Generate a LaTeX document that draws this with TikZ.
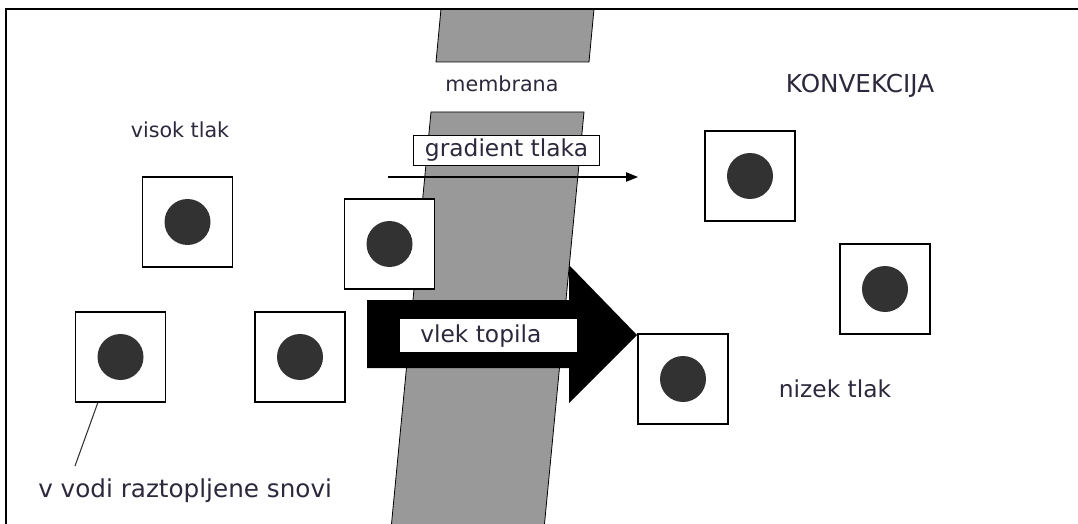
\documentclass[tikz,border=0pt]{standalone}
\usepackage{fontspec}
\setmainfont{DejaVu Sans}
\usetikzlibrary{calc,arrows.meta}
\definecolor{txt}{RGB}{45,40,60}
\definecolor{memb}{RGB}{153,153,153}
\definecolor{dotc}{RGB}{50,50,50}
\begin{document}
\begin{tikzpicture}[x=0.75pt,y=-0.75pt,
  lbl/.style={text=txt,font=\fontsize{17.5}{20}\selectfont,inner sep=0pt},
  biglbl/.style={text=txt,font=\fontsize{18.5}{21}\selectfont,inner sep=0pt},
  smalllbl/.style={text=txt,font=\fontsize{15.5}{18}\selectfont,inner sep=0pt},
  particle/.style={draw=black,line width=1pt,fill=white,minimum size=67.5pt,inner sep=0pt},
  core/.style={circle,fill=dotc,minimum size=34.5pt,inner sep=0pt}]
\useasboundingbox (0,0) rectangle (1078,524);
\fill[white] (0,0) rectangle (1078,524);
% membrane
\filldraw[fill=memb,draw=black,line width=0.6pt] (441,9) -- (594,9) -- (589,62) -- (436,62) -- cycle;
\filldraw[fill=memb,draw=black,line width=0.6pt] (431,112) -- (584,112) -- (544.3,526) -- (391.3,526) -- cycle;
% frame
\draw[line width=1.6pt] (6,526) -- (6,9) -- (1080,9);
% labels
\node[smalllbl,anchor=base] (visok) at (180,138) {visok tlak};
\node[smalllbl,anchor=base] (membrana) at (502,92) {membrana};
\node[biglbl,anchor=base] (konv) at (860,93) {KONVEKCIJA};
\node[lbl,anchor=base] (nizek) at (835,397) {nizek tlak};
\node[biglbl,anchor=base west] (snovi) at (38,497) {v vodi raztopljene snovi};
% gradient
\node[lbl,draw=black,line width=0.8pt,fill=white,minimum width=140pt,minimum height=23pt,inner sep=0pt] (grad) at (506.5,150.5) {gradient tlaka};
\coordinate (gs) at (388,177);
\coordinate (ge) at (638,177);
\draw[line width=0.8pt,-{Triangle[length=9pt,width=7pt]}] (gs) -- (ge);
% particles
\node[particle] (p1) at (187.5,222) {};
\node[particle] (p2) at (389.5,244) {};
\node[particle] (p3) at (120.5,357) {};
\node[particle] (p4) at (300,357) {};
\node[particle] (p5) at (750,176) {};
\node[particle] (p6) at (885,289) {};
\node[particle] (p7) at (683,379) {};
\foreach \p in {p1,p2,p3,p4,p5,p6,p7} \node[core] at (\p) {};
% solvent drag arrow
\fill[black] (367,300) -- (569,300) -- (569,265) -- (637,335) -- (569,403) -- (569,368) -- (367,368) -- cycle;
\fill[white] (400,319) rectangle (577,352);
\node[lbl,anchor=base west] (vlek) at (420,342) {vlek topila};
% pointer
\draw[line width=0.8pt,draw=black!80] ($(p3.south west)+(23,0)$) -- ($(snovi.north west)+(37,-12)$);
\end{tikzpicture}
\end{document}
